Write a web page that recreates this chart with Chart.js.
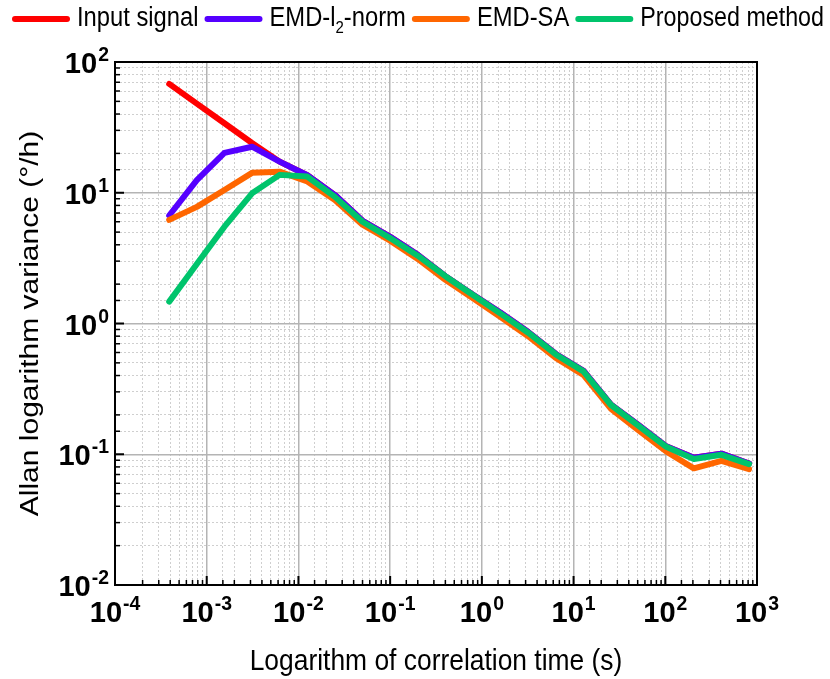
<!DOCTYPE html>
<html>
<head>
<meta charset="utf-8">
<script src="https://cdn.jsdelivr.net/npm/chart.js@4.4.0/dist/chart.umd.min.js"></script>
<style>
  html, body { margin: 0; padding: 0; background: #fff; }
  #wrap { width: 830px; height: 679px; position: relative; }
</style>
</head>
<body>
<div id="wrap"><canvas id="allan"></canvas></div>
<script>
// correlation time (s)
const tau = [0.00039, 0.00078, 0.00156, 0.00312, 0.00624, 0.0125, 0.025, 0.05, 0.1, 0.2, 0.4,
  0.8, 1.6, 3.2, 6.4, 12.8, 25.6, 51.2, 102.4, 204.8, 409.6, 819.2];

// Allan variance per method
const inputSignal = [68, 48, 34, 24, 17.3, 13.6, 9.6, 6.1, 4.6, 3.35, 2.3,
  1.66, 1.21, 0.86, 0.585, 0.435, 0.24, 0.167, 0.115, 0.094, 0.101, 0.085];
const emdL2 = [6.7, 12.5, 20.2, 22.5, 17.3, 13.6, 9.6, 6.1, 4.6, 3.35, 2.3,
  1.66, 1.21, 0.86, 0.585, 0.435, 0.24, 0.167, 0.115, 0.094, 0.101, 0.085];
const emdSA = [6.2, 7.8, 10.5, 14.2, 14.5, 12.2, 8.8, 5.7, 4.3, 3.12, 2.16,
  1.56, 1.12, 0.8, 0.545, 0.405, 0.222, 0.152, 0.105, 0.078, 0.089, 0.077];
const proposed = [1.47, 2.85, 5.5, 9.9, 13.7, 13.3, 9.3, 6.0, 4.5, 3.3, 2.3,
  1.65, 1.19, 0.85, 0.58, 0.43, 0.238, 0.165, 0.114, 0.092, 0.099, 0.084];

const seriesNames = ['Input signal', 'EMD-l\u2082-norm', 'EMD-SA', 'Proposed method'];
const seriesColors = ['#ff0000', '#5500ff', '#ff6600', '#00c46c'];

// tick label exponents (10^n)
const xTickExps = [-4, -3, -2, -1, 0, 1, 2, 3];
const yTickExps = [-2, -1, 0, 1, 2];

const xTitle = 'Logarithm of correlation time (s)';
const yTitle = 'Allan logarithm variance (\u00b0/h)';

const FONT = "'Liberation Sans', Arial, sans-serif";
const SQX = 0.88;  // text in the original looks a bit narrow

function isPow10(v) {
  const l = Math.log10(v);
  return Math.abs(l - Math.round(l)) < 1e-9;
}

function pts(vals) {
  return tau.map((t, i) => ({ x: t, y: vals[i] }));
}

const allSeries = [inputSignal, emdL2, emdSA, proposed];
const datasets = allSeries.map((vals, i) => ({
  label: seriesNames[i],
  data: pts(vals),
  borderColor: seriesColors[i],
  backgroundColor: seriesColors[i],
  borderWidth: 6,
  pointRadius: 0,
  tension: 0,
  borderJoinStyle: 'round',
  borderCapStyle: 'round',
  order: allSeries.length - i   // later series on top
}));

// narrow text helper, left aligned at x
function narrowText(ctx, txt, x, y, sx) {
  ctx.save();
  ctx.translate(x, y);
  ctx.scale(sx, 1);
  ctx.fillText(txt, 0, 0);
  ctx.restore();
  return ctx.measureText(txt).width * sx;
}

// draw 10^n with a raised exponent
function drawPow(ctx, exp, px, py, align) {
  const base = '10', sup = String(exp);
  const bf = 'bold 30px ' + FONT, sf = 'bold 20px ' + FONT;
  const tx = 0.97;
  ctx.font = bf;
  const wb = ctx.measureText(base).width * tx;
  ctx.font = sf;
  const ws = ctx.measureText(sup).width * tx;
  const x0 = align === 'right' ? px - wb - ws - 1 : px - (wb + ws + 1) / 2;
  ctx.textAlign = 'left';
  ctx.textBaseline = 'alphabetic';
  ctx.font = bf;
  narrowText(ctx, base, x0, py, tx);
  ctx.font = sf;
  narrowText(ctx, sup, x0 + wb + 1, py - 12, tx);
}

const decoPlugin = {
  id: 'deco',
  afterDraw(chart) {
    const { ctx, chartArea: a, scales: { x, y } } = chart;
    ctx.save();
    ctx.strokeStyle = '#000';
    // inward tick marks
    x.ticks.forEach(t => {
      const px = x.getPixelForValue(t.value);
      const major = isPow10(t.value);
      ctx.lineWidth = major ? 2 : 1.5;
      ctx.beginPath();
      ctx.moveTo(px, a.bottom);
      ctx.lineTo(px, a.bottom - (major ? 9 : 5));
      ctx.stroke();
    });
    y.ticks.forEach(t => {
      const py = y.getPixelForValue(t.value);
      const major = isPow10(t.value);
      ctx.lineWidth = major ? 2 : 1.5;
      ctx.beginPath();
      ctx.moveTo(a.left, py);
      ctx.lineTo(a.left + (major ? 9 : 5), py);
      ctx.stroke();
    });

    // tick labels
    ctx.fillStyle = '#000';
    xTickExps.forEach(e => {
      drawPow(ctx, e, x.getPixelForValue(Math.pow(10, e)), a.bottom + 37, 'center');
    });
    yTickExps.forEach(e => {
      drawPow(ctx, e, a.left - 6, y.getPixelForValue(Math.pow(10, e)) + 11, 'right');
    });

    // axis titles
    ctx.font = '30px ' + FONT;
    ctx.textAlign = 'center';
    ctx.textBaseline = 'middle';
    ctx.save();
    ctx.translate((a.left + a.right) / 2, 662);
    ctx.scale(SQX, 1);
    ctx.fillText(xTitle, 0, 0);
    ctx.restore();
    ctx.save();
    ctx.translate(31, (a.top + a.bottom) / 2);
    ctx.scale(SQX, 1);
    ctx.rotate(-Math.PI / 2);
    ctx.fillText(yTitle, 0, 0);
    ctx.restore();

    // legend
    let lx = 15;
    const ly = 19;
    ctx.textAlign = 'left';
    ctx.textBaseline = 'middle';
    chart.data.datasets.forEach(ds => {
      ctx.strokeStyle = ds.borderColor;
      ctx.lineWidth = 6;
      ctx.lineCap = 'round';
      ctx.beginPath();
      ctx.moveTo(lx, ly);
      ctx.lineTo(lx + 52, ly);
      ctx.stroke();
      lx += 62;
      ctx.fillStyle = '#000';
      const parts = ds.label.split('\u2082');
      ctx.font = '27px ' + FONT;
      let w = ctx.measureText(parts[0]).width * SQX;
      const room = 824 - lx;
      const sx = (parts.length === 1 && w > room) ? SQX * room / w : SQX;
      lx += narrowText(ctx, parts[0], lx, ly, sx);
      if (parts.length > 1) {
        ctx.font = '17px ' + FONT;
        lx += narrowText(ctx, '2', lx, ly + 9, SQX);
        ctx.font = '27px ' + FONT;
        lx += narrowText(ctx, parts[1], lx, ly, SQX);
      }
      lx += 9;
    });
    ctx.restore();
  }
};

const minorGrid = {
  color: ctx => isPow10(ctx.tick.value) ? 'rgba(0,0,0,0)' : '#cfcfcf',
  lineWidth: 1,
  drawTicks: false
};
const majorGrid = {
  color: ctx => {
    const v = ctx.tick.value;
    const s = ctx.chart.scales[ctx.scale.id];
    return (v <= s.min * 1.0001 || v >= s.max * 0.9999) ? 'rgba(0,0,0,0)' : '#b4b4b4';
  },
  lineWidth: 1.5,
  drawTicks: false
};
const onlyMajor = scale => { scale.ticks = scale.ticks.filter(t => isPow10(t.value)); };

new Chart(document.getElementById('allan'), {
  type: 'line',
  data: { datasets },
  options: {
    responsive: true,
    maintainAspectRatio: false,
    animation: false,
    layout: { padding: { left: 115, right: 73, top: 62, bottom: 94 } },
    plugins: { legend: { display: false }, tooltip: { enabled: false } },
    scales: {
      x: {
        type: 'logarithmic', position: 'bottom', min: 1e-4, max: 1e3,
        grid: minorGrid,
        border: { color: '#000', width: 2, dash: [2, 2] },
        ticks: { display: false }
      },
      y: {
        type: 'logarithmic', position: 'left', min: 1e-2, max: 1e2,
        grid: minorGrid,
        border: { color: '#000', width: 2, dash: [2, 2] },
        ticks: { display: false }
      },
      x2: {
        type: 'logarithmic', position: 'top', min: 1e-4, max: 1e3,
        grid: majorGrid,
        border: { color: '#000', width: 2 },
        ticks: { display: false },
        afterBuildTicks: onlyMajor
      },
      y2: {
        type: 'logarithmic', position: 'right', min: 1e-2, max: 1e2,
        grid: majorGrid,
        border: { color: '#000', width: 2 },
        ticks: { display: false },
        afterBuildTicks: onlyMajor
      }
    }
  },
  plugins: [decoPlugin]
});
</script>
</body>
</html>
